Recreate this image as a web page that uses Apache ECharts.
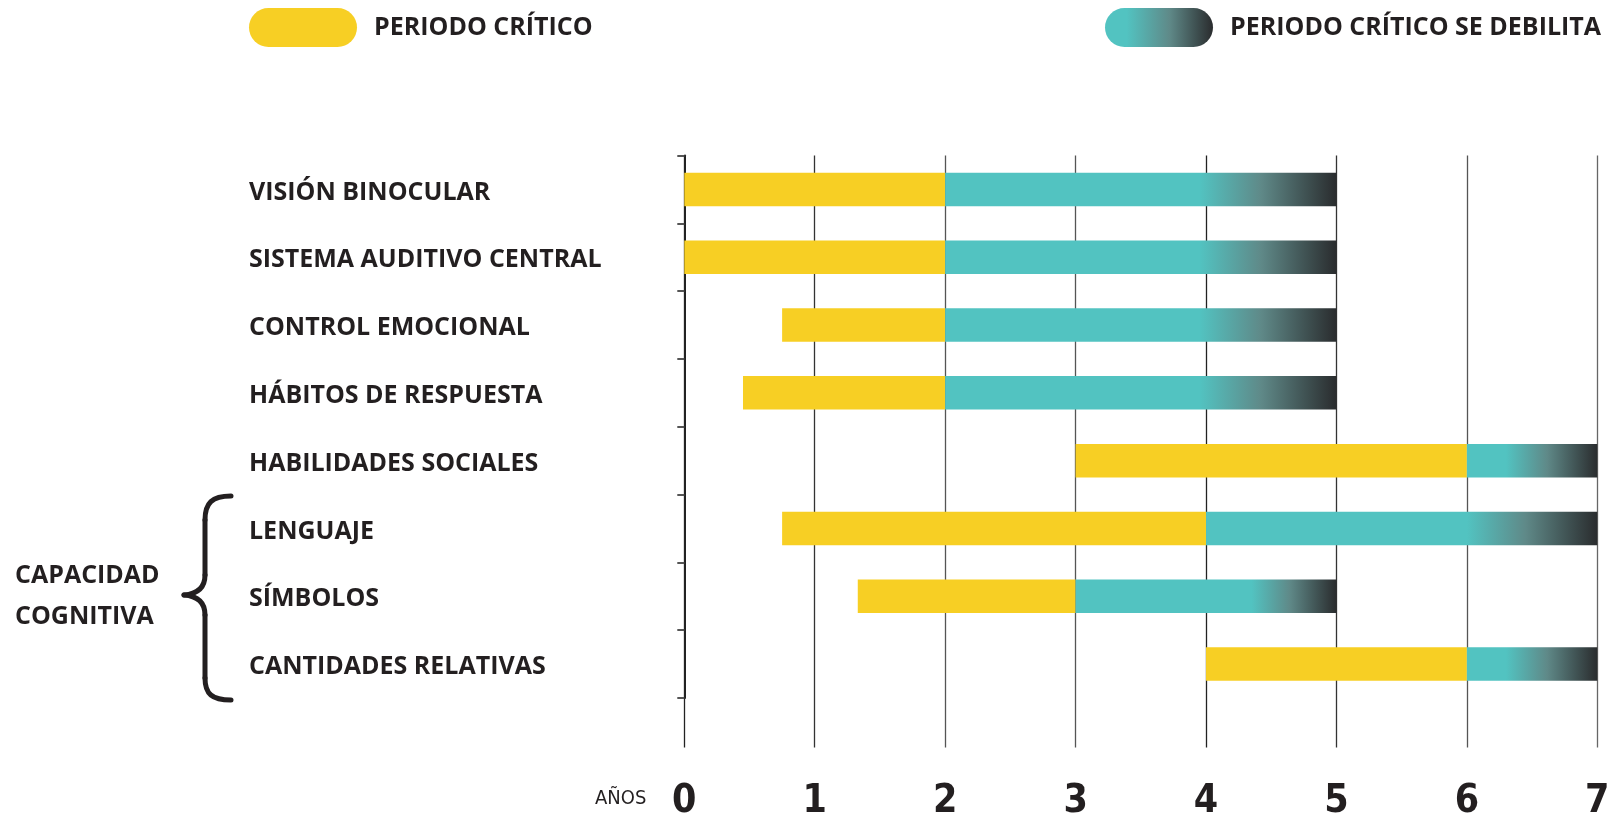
<!DOCTYPE html>
<html>
<head>
<meta charset="utf-8">
<script src="https://cdn.jsdelivr.net/npm/echarts@6/dist/echarts.min.js"></script>
<style>
html,body{margin:0;padding:0;background:#fff;}
#chart{width:1609px;height:815px;}
</style>
</head>
<body>
<div id="chart"></div>
<script>
// ---- data ----
const categories = ['VISIÓN BINOCULAR','SISTEMA AUDITIVO CENTRAL','CONTROL EMOCIONAL','HÁBITOS DE RESPUESTA','HABILIDADES SOCIALES','LENGUAJE','SÍMBOLOS','CANTIDADES RELATIVAS'];
const criticalStart = [0, 0, 0.75, 0.45, 3, 0.75, 1.33, 4];
const criticalEnd   = [2, 2, 2, 2, 6, 4, 3, 6];
const weakenEnd     = [5, 5, 5, 5, 7, 7, 5, 7];
const fadeStart     = [3.95, 3.95, 3.95, 3.95, 6.3, 6.0, 4.35, 6.3];
const yearTicks = [0,1,2,3,4,5,6,7];
const seriesNames = ['PERIODO CRÍTICO', 'PERIODO CRÍTICO SE DEBILITA'];
const groupLabel = ['CAPACIDAD', 'COGNITIVA'];
const axisName = 'AÑOS';

// ---- styles ----
const YELLOW = '#F7CF24';
const TEAL = '#52C3C1';
const MIDGRAY = '#5F8988';
const DARK = '#2A2C2E';
const TEXT = '#231F20';
const LABEL_FONT = '"Open Sans", "Noto Sans", sans-serif';
const NUM_FONT = '"Liberation Sans Narrow", "DejaVu Sans Condensed", sans-serif';

function fadeGradient(off) {
  return new echarts.graphic.LinearGradient(0, 0, 1, 0, [
    {offset: 0, color: TEAL},
    {offset: off, color: TEAL},
    {offset: off + (1 - off) * 0.45, color: MIDGRAY},
    {offset: 1, color: DARK}
  ]);
}

const yellowData = criticalStart.map((s, i) => criticalEnd[i] - s);
const tealData = criticalEnd.map((e, i) => {
  const len = weakenEnd[i] - e;
  const off = Math.max(0, Math.min(0.95, (fadeStart[i] - e) / len));
  return { value: len, itemStyle: { color: fadeGradient(off) } };
});

const chart = echarts.init(document.getElementById('chart'), null, {renderer: 'canvas'});

const capsule = 'path://M19.5,0 H88.5 A19.5,19.5 0 0 1 88.5,39 H19.5 A19.5,19.5 0 0 1 19.5,0 Z';
const legendText = {fontFamily: LABEL_FONT, fontWeight: 'bold', fontSize: 25, color: TEXT, padding: [4,0,0,12]};

const braceStyle = {stroke: TEXT, lineWidth: 5, fill: 'none', lineCap: 'round'};
const brace = [
  {type: 'bezierCurve', shape: {x1: 231, y1: 496, cpx1: 212, cpy1: 496, cpx2: 205, cpy2: 503, x2: 205, y2: 520}, style: braceStyle},
  {type: 'line', shape: {x1: 205, y1: 520, x2: 205, y2: 575}, style: braceStyle},
  {type: 'bezierCurve', shape: {x1: 205, y1: 575, cpx1: 205, cpy1: 588, cpx2: 197, cpy2: 594, x2: 184, y2: 595}, style: braceStyle},
  {type: 'bezierCurve', shape: {x1: 184, y1: 595, cpx1: 197, cpy1: 596, cpx2: 205, cpy2: 602, x2: 205, y2: 615}, style: braceStyle},
  {type: 'line', shape: {x1: 205, y1: 615, x2: 205, y2: 678}, style: braceStyle},
  {type: 'bezierCurve', shape: {x1: 205, y1: 678, cpx1: 205, cpy1: 694, cpx2: 212, cpy2: 700, x2: 231, y2: 700}, style: braceStyle}
];

const option = {
  backgroundColor: '#fff',
  animation: false,
  legend: [
    {data: [seriesNames[0]], left: 249, top: 8, itemWidth: 108, itemHeight: 39, icon: capsule, padding: 0, textStyle: legendText, selectedMode: false},
    {data: [seriesNames[1]], left: 1105, top: 8, itemWidth: 108, itemHeight: 39, icon: capsule, padding: 0, textStyle: legendText, selectedMode: false}
  ],
  grid: [
    {left: 684.3, right: 11.7, top: 155.5, height: 542.5, outerBoundsMode: 'none', containLabel: false},
    {left: 684.3, right: 11.7, top: 155.5, height: 592, outerBoundsMode: 'none', containLabel: false}
  ],
  xAxis: [
    {type: 'value', gridIndex: 0, min: 0, max: 7, interval: 1, show: false},
    {type: 'value', gridIndex: 1, min: 0, max: 7, interval: 1,
     axisLine: {show: false}, axisTick: {show: false},
     splitLine: {show: true, lineStyle: {color: ['#222', '#333', '#555', '#555', '#222', '#333', '#555', '#666'], width: 1.3}},
     axisLabel: {margin: 35, fontFamily: NUM_FONT, fontWeight: 'bold', fontSize: 39, color: TEXT,
       formatter: v => String(yearTicks[v] !== undefined ? yearTicks[v] : v)}}
  ],
  yAxis: [
    {type: 'category', gridIndex: 0, data: categories, inverse: true,
     axisLine: {show: true, lineStyle: {color: '#222', width: 2}},
     axisTick: {show: true, length: 7, lineStyle: {color: '#555', width: 2}},
     axisLabel: {align: 'left', margin: 435.3, color: TEXT,
       formatter: v => '{t|' + v + '}',
       rich: {t: {fontFamily: LABEL_FONT, fontWeight: 'bold', fontSize: 25, color: TEXT, padding: [6,0,0,0]}}}},
    {type: 'value', gridIndex: 1, show: false, min: 0, max: 1}
  ],
  series: [
    {type: 'bar', name: '_base', stack: 'a', xAxisIndex: 0, yAxisIndex: 0, data: criticalStart,
     itemStyle: {color: 'rgba(0,0,0,0)'}, silent: true, barWidth: 33.5},
    {type: 'bar', name: seriesNames[0], stack: 'a', xAxisIndex: 0, yAxisIndex: 0, data: yellowData,
     itemStyle: {color: YELLOW}, barWidth: 33.5},
    {type: 'bar', name: seriesNames[1], stack: 'a', xAxisIndex: 0, yAxisIndex: 0, data: tealData,
     itemStyle: {color: new echarts.graphic.LinearGradient(0, 0, 1, 0, [
       {offset: 0, color: TEAL}, {offset: 0.2, color: TEAL}, {offset: 0.6, color: MIDGRAY}, {offset: 1, color: DARK}])},
     barWidth: 33.5}
  ],
  graphic: [
    {type: 'text', left: 15, top: 555, style: {text: groupLabel.join('\n'), fontFamily: LABEL_FONT, fontWeight: 'bold', fontSize: 25, lineHeight: 41, fill: TEXT}},
    ...brace,
    {type: 'text', left: 595, top: 789, style: {text: axisName, fontFamily: NUM_FONT, fontSize: 20, fill: TEXT}}
  ]
};
chart.setOption(option);
</script>
</body>
</html>
